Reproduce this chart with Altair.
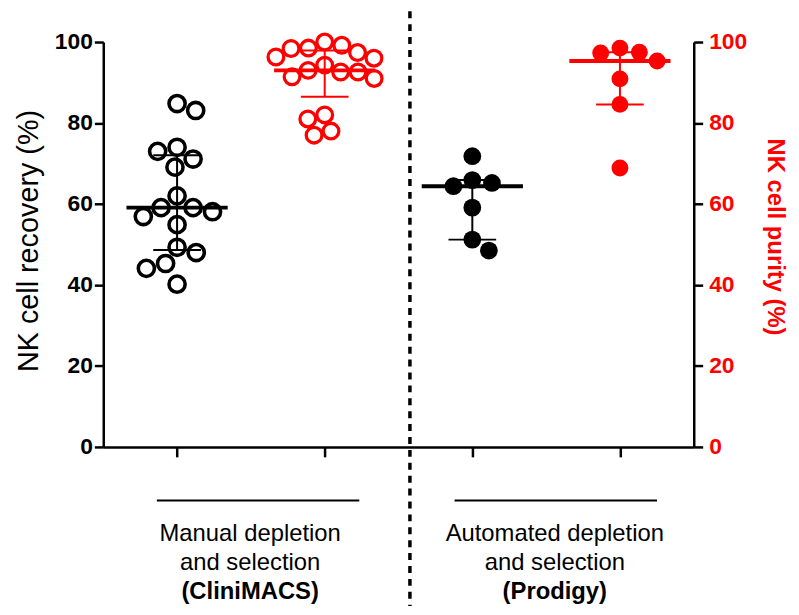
import math
import numpy as np
import pandas as pd
import altair as alt

# ---------------- values ----------------
group_pos = [1, 2, 3, 4]
recovery_clinimacs = [84.8, 83.1, 74.0, 73.0, 71.1, 69.1, 62.0, 59.1, 59.1, 58.1,
                      56.9, 54.9, 49.3, 48.0, 45.3, 44.1, 40.2]
purity_clinimacs = [100.0, 99.2, 98.5, 98.4, 97.4, 96.3, 96.0, 94.3, 93.0, 92.6,
                    92.6, 91.4, 91.0, 82.0, 81.0, 78.0, 77.0]
recovery_prodigy = [71.8, 65.9, 65.2, 64.4, 59.1, 51.2, 48.5]
purity_prodigy = [98.5, 97.5, 97.3, 95.3, 90.9, 84.6, 68.9]
caption_manual = ["Manual depletion", "and selection", "(CliniMACS)"]
caption_automated = ["Automated depletion", "and selection", "(Prodigy)"]
recovery_title = "NK cell recovery (%)"
purity_title = "NK cell purity (%)"
axis_ticks = [0, 20, 40, 60, 80, 100]

RED = "#ff0000"
FONT = "Liberation Sans"
W, H = 595, 408
X_DOMAIN = [0.5, 4.5]
PX_X = W / (X_DOMAIN[1] - X_DOMAIN[0])
PX_Y = H / 100.0


def swarm(values, d):
    """Simple beeswarm: horizontal pixel offsets so that symbols of diameter d do not collide."""
    order = sorted(range(len(values)), key=lambda i: -values[i])
    placed, offs, side = [], [0.0] * len(values), 1
    for i in order:
        y = values[i] * PX_Y
        cands = {0.0}
        for px, py in placed:
            dy = abs(py - y)
            if dy < d:
                w = math.sqrt(d * d - dy * dy)
                cands.add(px - w)
                cands.add(px + w)
        ok = [c for c in cands
              if all((c - px) ** 2 + (y - py) ** 2 >= d * d - 1e-6 for px, py in placed)]
        best = min(ok, key=lambda c: (round(abs(c), 3), -side * c))
        if best > 0:
            side = -1
        elif best < 0:
            side = 1
        placed.append((best, y))
        offs[i] = best
    return offs


specs = [
    (1, recovery_clinimacs, "recovery", "open", 20.0),
    (2, purity_clinimacs, "purity", "open", 17.5),
    (3, recovery_prodigy, "recovery", "filled", 20.0),
    (4, purity_prodigy, "purity", "filled", 20.0),
]

pt_rows, st_rows = [], []
for pos, vals, kind, style, d in specs:
    offs = swarm(vals, d)
    for v, o in zip(vals, offs):
        pt_rows.append({"pos": pos, "xpos": pos + o / PX_X, "value": v, "kind": kind, "style": style})
    q1, med, q3 = np.percentile(vals, [25, 50, 75], method="weibull")
    st_rows.append({"pos": pos, "kind": kind, "q1": q1, "median": med, "q3": q3})

pts = pd.DataFrame(pt_rows)
stats = pd.DataFrame(st_rows)
caps = stats.melt(id_vars=["pos", "kind"], value_vars=["q1", "q3"], value_name="q")

x_axis = alt.Axis(values=group_pos, labels=False, title=None, grid=False, ticks=True,
                  tickSize=10, tickWidth=2.5, tickColor="black",
                  domainColor="black", domainWidth=2.5)


def xenc(field):
    return alt.X(field, type="quantitative",
                 scale=alt.Scale(domain=X_DOMAIN, nice=False, zero=False), axis=x_axis)


y_scale = alt.Scale(domain=[0, 100], nice=False, zero=True)

left_axis = alt.Axis(orient="left", values=axis_ticks, grid=False, title=recovery_title,
                     labelFont=FONT, labelFontSize=23, labelFontWeight="bold",
                     labelColor="black", labelPadding=2,
                     tickSize=9, tickWidth=2.5, tickColor="black",
                     domainColor="black", domainWidth=2.5,
                     titleFont=FONT, titleFontSize=29, titleFontWeight="normal",
                     titleColor="black", titleAngle=270, titleX=-75, titleY=200,
                     titleAlign="center", titleBaseline="middle")

right_axis = alt.Axis(orient="right", values=axis_ticks, grid=False, title=purity_title,
                      labelFont=FONT, labelFontSize=23, labelFontWeight="bold",
                      labelColor=RED, labelPadding=6,
                      tickSize=9, tickWidth=2.5, tickColor="black",
                      domainColor="black", domainWidth=2.5,
                      titleFont=FONT, titleFontSize=24, titleFontWeight="bold",
                      titleColor=RED, titleAngle=90, titleX=81, titleY=196,
                      titleAlign="center", titleBaseline="middle")


def side_layer(kind, color, axis, open_size, fill_size, open_sw):
    s = stats[stats.kind == kind]
    c = caps[caps.kind == kind]
    p = pts[pts.kind == kind]

    def yenc(field):
        return alt.Y(field, type="quantitative", scale=y_scale, axis=axis)

    whisker = alt.Chart(s).mark_rule(color=color, strokeWidth=2, opacity=1).encode(
        x=xenc("pos"), y=yenc("q1"), y2="q3:Q")
    capm = alt.Chart(c).mark_tick(orient="horizontal", size=48, thickness=2,
                                  color=color, opacity=1).encode(
        x=xenc("pos"), y=yenc("q"))
    median = alt.Chart(s).mark_tick(orient="horizontal", size=102, thickness=4,
                                    color=color, opacity=1).encode(
        x=xenc("pos"), y=yenc("median"))
    open_pts = alt.Chart(p[p["style"] == "open"]).mark_point(
        shape="circle", filled=False, size=open_size, strokeWidth=open_sw,
        color=color, opacity=1).encode(x=xenc("xpos"), y=yenc("value"))
    fill_pts = alt.Chart(p[p["style"] == "filled"]).mark_circle(
        size=fill_size, color=color, opacity=1).encode(x=xenc("xpos"), y=yenc("value"))
    return alt.layer(whisker, capm, median, open_pts, fill_pts)


left = side_layer("recovery", "black", left_axis, 265, 320, 3.6)
right = side_layer("purity", RED, right_axis, 250, 290, 3.3)

dummy = pd.DataFrame({"a": [0]})
divider = alt.Chart(dummy).mark_rule(color="black", strokeWidth=3.5, strokeDash=[7, 6]).encode(
    x=alt.value(309), y=alt.value(-31), y2=alt.value(580))
sep1 = alt.Chart(dummy).mark_rule(color="black", strokeWidth=2).encode(
    x=alt.value(54), x2=alt.value(258), y=alt.value(462))
sep2 = alt.Chart(dummy).mark_rule(color="black", strokeWidth=2).encode(
    x=alt.value(354), x2=alt.value(558), y=alt.value(462))

texts = []
for cx, lines in [(148, caption_manual), (455, caption_automated)]:
    for i, line in enumerate(lines):
        texts.append(
            alt.Chart(pd.DataFrame({"t": [line]})).mark_text(
                font=FONT, fontSize=24, fontWeight="bold" if i == 2 else "normal",
                color="black", align="center", baseline="middle").encode(
                text="t:N", x=alt.value(cx), y=alt.value(496 + 29 * i)))

chart = alt.layer(left, right, divider, sep1, sep2, *texts).resolve_scale(
    y="independent"
).properties(
    width=W, height=H,
    autosize=alt.AutoSizeParams(type="none"),
    padding={"left": 96, "top": 32, "right": 98, "bottom": 158},
).configure_view(stroke=None)

chart.save("out.html", embed_options={"renderer": "svg", "actions": False})
